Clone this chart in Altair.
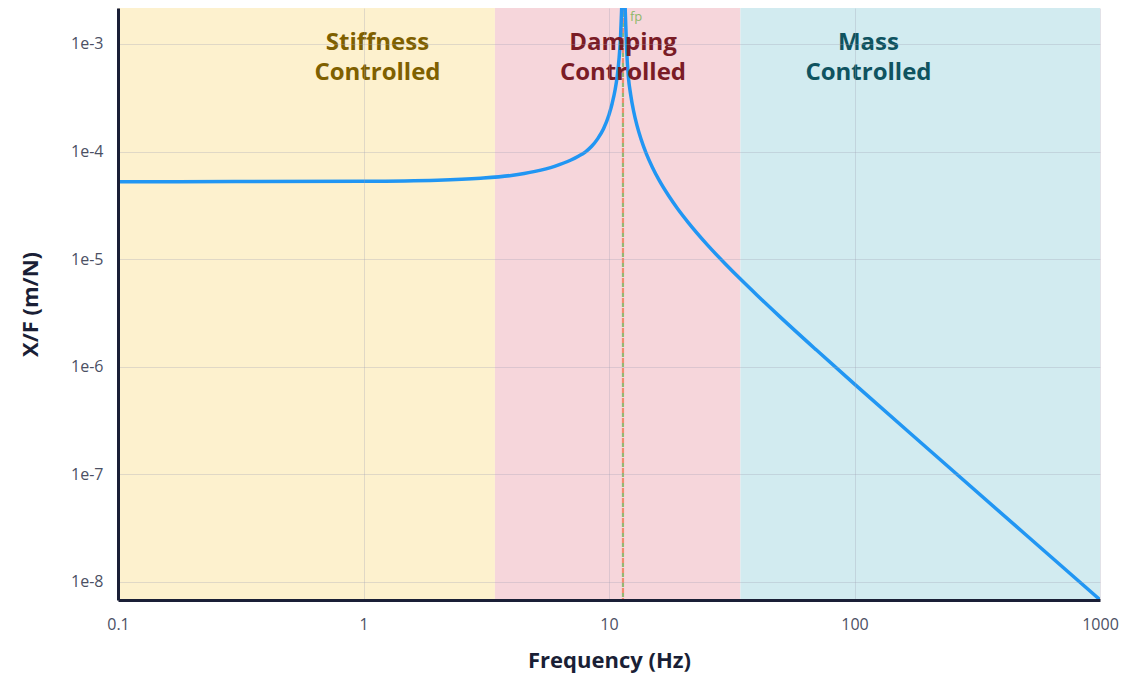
import altair as alt
import pandas as pd

# ---- data ----
freq = [0.1, 0.3, 1, 2, 3, 4, 5, 6, 7, 7.5, 8, 8.5, 9, 9.5, 10, 10.3, 10.6, 10.8,
        11.0, 11.15, 11.25, 11.45, 11.65, 11.8, 12.0, 12.25, 12.6, 13, 13.5,
        14.2, 15, 16, 17.5, 19, 21, 25, 30, 34.3, 40, 50, 70, 100, 200, 500, 1000]
compliance = [5.25e-5, 5.26e-5, 5.3e-5, 5.42e-5, 5.65e-5, 6.0e-5, 6.55e-5, 7.3e-5,
              8.35e-5, 9.05e-5, 9.9e-5, 1.12e-4, 1.32e-4, 1.63e-4, 2.2e-4, 2.8e-4,
              3.8e-4, 5.0e-4, 7.5e-4, 1.2e-3, 2.0e-3, 6.0e-3, 2.0e-3, 8.8e-4,
              4.87e-4, 3.4e-4, 2.37e-4, 1.75e-4, 1.307e-4, 9.53e-5, 7.2e-5,
              5.42e-5, 3.88e-5, 2.96e-5, 2.2e-5, 1.38e-5, 8.88e-6, 6.53e-6,
              4.65e-6, 2.88e-6, 1.43e-6, 6.9e-7, 1.71e-7, 2.73e-8, 6.84e-9]

region_names = ["Stiffness", "Damping", "Mass"]
region_start = [0.1, 3.43, 34.3]
region_end = [3.43, 34.3, 1000]
region_fill = ["#FDF1CE", "#F6D6DB", "#D2EBF0"]

label_text = ["Stiffness\nControlled", "Damping\nControlled", "Mass\nControlled"]
label_freq = [1.14, 11.4, 114]
label_color = ["#7F6000", "#7A1C26", "#0F5360"]
label_y = [1.02e-3, 1.02e-3, 1.02e-3]

fp = 11.4
fp_label_y = 1.77e-3

x_ticks = [0.1, 1, 10, 100, 1000]
y_ticks = [1e-3, 1e-4, 1e-5, 1e-6, 1e-7, 1e-8]
x_domain = [0.1, 1000]
y_domain = [6.8e-9, 2.16e-3]

curve_df = pd.DataFrame({"f": freq, "xf": compliance})
reg_df = pd.DataFrame({"name": region_names, "start": region_start, "end": region_end})
lab_df = pd.DataFrame({"name": region_names, "f": label_freq, "y": label_y,
                       "text": label_text})
fp_df = pd.DataFrame({"f": [fp], "y": [fp_label_y], "text": ["fp"]})

W, H = 982, 592
FONT = "Open Sans"
xscale = alt.Scale(type="log", domain=x_domain, nice=False)
yscale = alt.Scale(type="log", domain=y_domain, nice=False)

x_axis = alt.Axis(values=x_ticks, format="~g", title="Frequency (Hz)",
                  labelFlush=False, ticks=False, labelPadding=16,
                  titleY=60, titleBaseline="middle", zindex=1)
y_axis = alt.Axis(values=y_ticks, labelExpr="'1e' + round(log(datum.value)/LN10)",
                  title="X/F (m/N)", labelFlush=False, ticks=False,
                  labelPadding=15, titleX=-88, titleY=H / 2, titleAngle=270,
                  titleAlign="center", titleBaseline="middle", zindex=1)

regions = alt.Chart(reg_df).mark_rect().encode(
    x=alt.X("start:Q", scale=xscale, axis=x_axis),
    x2="end:Q",
    color=alt.Color("name:N", scale=alt.Scale(domain=region_names, range=region_fill),
                    legend=None),
)

fp_rule1 = alt.Chart(fp_df).mark_rule(color="#F28B6E", strokeWidth=2.2,
                                      strokeDash=[5, 5]).encode(x="f:Q")
fp_rule2 = alt.Chart(fp_df).mark_rule(color="#93B874", strokeWidth=2.2,
                                      strokeDash=[4, 6], strokeDashOffset=5).encode(x="f:Q")

curve = alt.Chart(curve_df).mark_line(color="#2196F3", strokeWidth=3.5,
                                      interpolate="monotone", clip=True).encode(
    x=alt.X("f:Q", scale=xscale),
    y=alt.Y("xf:Q", scale=yscale, axis=y_axis),
)

labels = alt.Chart(lab_df).mark_text(font=FONT, fontSize=24, fontWeight="bold",
                                     lineBreak="\n", lineHeight=30,
                                     align="center", baseline="middle").encode(
    x=alt.X("f:Q", scale=xscale),
    y=alt.Y("y:Q", scale=yscale),
    color=alt.Color("name:N", scale=alt.Scale(domain=region_names, range=label_color),
                    legend=None),
    text="text:N",
)

fp_text = alt.Chart(fp_df).mark_text(font=FONT, fontSize=13, color="#8DB86A",
                                     align="left", baseline="middle", dx=7).encode(
    x=alt.X("f:Q", scale=xscale),
    y=alt.Y("y:Q", scale=yscale),
    text="text:N",
)

chart = alt.layer(regions, fp_rule1, fp_rule2, curve, labels, fp_text).resolve_scale(
    color="independent"
).properties(
    width=W, height=H,
    autosize=alt.AutoSizeParams(type="none"),
    padding={"left": 110, "top": 0, "right": 19, "bottom": 82},
    background="white",
).configure_view(strokeWidth=0).configure_axis(
    grid=True, gridColor="#A0A0B4", gridOpacity=0.3, gridWidth=1,
    domainColor="#1A1F36", domainWidth=3,
    labelFont=FONT, labelFontSize=16, labelColor="#4B5064",
    titleFont=FONT, titleFontSize=22, titleFontWeight="bold", titleColor="#1A1F36",
)

chart.save("out.html", embed_options={"renderer": "svg", "actions": False})
